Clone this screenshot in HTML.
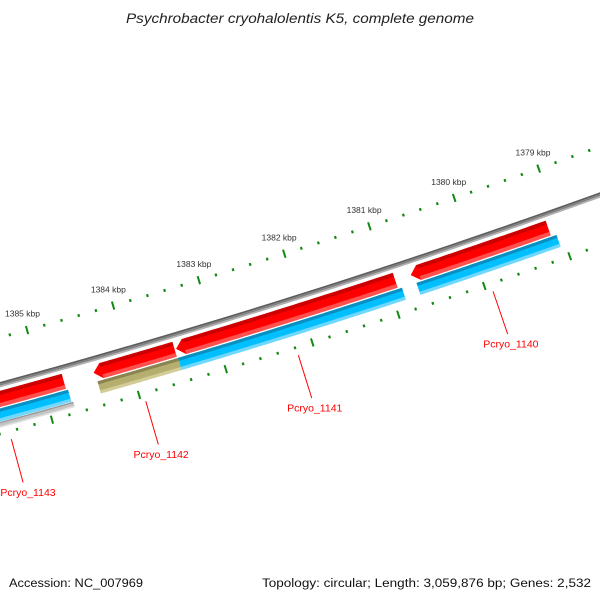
<!DOCTYPE html>
<html><head><meta charset="utf-8"><style>
html,body{margin:0;padding:0;background:#fff;}
svg{display:block;font-family:"Liberation Sans",sans-serif;}
</style></head><body>
<svg id="map" width="600" height="600" viewBox="0 0 600 600" xmlns="http://www.w3.org/2000/svg">
<rect x="0" y="0" width="600" height="600" fill="#fff"/>
<text x="126" y="23" font-size="13.5" font-style="italic" fill="#222" textLength="348" lengthAdjust="spacingAndGlyphs">Psychrobacter cryohalolentis K5, complete genome</text>
<g id="ticksOuter"></g>
<g id="ticksInner"></g>
<g id="backbone"></g>
<g id="genes"></g>
<g id="labels"></g>
<text x="9" y="587" font-size="12.3" fill="#111" textLength="134" lengthAdjust="spacingAndGlyphs">Accession: NC_007969</text>
<text x="262" y="587" font-size="12.3" fill="#111" textLength="329" lengthAdjust="spacingAndGlyphs">Topology: circular; Length: 3,059,876 bp; Genes: 2,532</text>
</svg>
<script>
// data
const geneNames = ["Pcryo_1143","Pcryo_1142","Pcryo_1141","Pcryo_1140"];
const geneStarts = [1384760,1383480,1380915,1379121];
const geneEnds = [1386220,1384416,1383463,1380733];
const cdsStarts = [1384740,1383470,1380870,1379060];
const cdsEnds = [1386220,1384400,1383470,1380700];
const cdsColors = ["blue","olive","blue","blue"];
const extraStarts = [1384720];
const extraEnds = [1386220];
const tickStart = 1377000, tickEnd = 1387000, minorStep = 200, majorStep = 1000;

// geometry
const NS='http://www.w3.org/2000/svg';
const cx=-2048, cy=-7137, a0=1.2882, kRad=0.01154/1000;
function ang(bp){return a0+(bp-1384000)*kRad;}
function pt(bp,r){const a=ang(bp);return [cx+r*Math.cos(a),cy+r*Math.sin(a)];}
const R_BB=7795.5, R_TO=7750, R_LBL=7733, R_RED1=7801.5, R_RED2=7817, R_BL1=7818.5, R_BL2=7831, R_GR1=7831.5, R_GR2=7837, R_TI=7843;
function el(tag,attrs,parent){const e=document.createElementNS(NS,tag);for(const k in attrs)e.setAttribute(k,attrs[k]);parent.appendChild(e);return e;}
function arcPts(s,e,r){const n=40,out=[];for(let i=0;i<=n;i++){out.push(pt(s+(e-s)*i/n,r));}return out;}
function bandPath(s,e,r1,r2,arrow){
  const al=90; const ee=arrow?e-al:e;
  let p=arcPts(s,ee,r1);
  if(arrow){p.push(pt(e,(r1+r2)/2));}
  p=p.concat(arcPts(ee,s,r2));
  return 'M'+p.map(q=>q[0].toFixed(2)+','+q[1].toFixed(2)).join('L')+'Z';
}
const pal={red:['#cc0000','#ff0000','#ff5050'],blue:['#0a8fc0','#00bfff','#70d8ff'],olive:['#8a8450','#b5ae6e','#d2cc96'],gray:['#9a9a9a','#c4c4c4','#e2e2e2']};
function band(g,s,e,r1,r2,col,arrow,name){
  const c=pal[col];const h=r2-r1;
  const p=el('path',{d:bandPath(s,e,r1,r2,arrow),fill:c[1]},g);
  
  
  const top=el('path',{d:bandPath(s,arrow?e-90:e,r1,r1+h*0.25,false),fill:c[0]},g);
  
  
  const bot=el('path',{d:bandPath(s,arrow?e-90:e,r2-h*0.25,r2,false),fill:c[2]},g);
  
  
}
// backbone
const bb=document.getElementById('backbone');
const bbs=[[R_BB-2.6,R_BB-0.8,'#5e5e5e'],[R_BB-0.8,R_BB+1,'#808080'],[R_BB+1,R_BB+2.6,'#b0b0b0']];
bbs.forEach(b=>{const p=el('path',{d:bandPath(1376000,1388000,b[0],b[1],false),fill:b[2]},bb);
  
  });
// ticks
const to=document.getElementById('ticksOuter'), ti=document.getElementById('ticksInner');
for(let bp=tickStart;bp<=tickEnd;bp+=minorStep){
  const major=bp%majorStep===0; const L=major?4.2:1.4;
  [[to,R_TO],[ti,R_TI]].forEach(([g,r])=>{
    const a=pt(bp,r-L),b=pt(bp,r+L);
    const t=el('line',{x1:a[0],y1:a[1],x2:b[0],y2:b[1],stroke:'#138a13','stroke-width':major?2:2.2},g);
    
    
  });
  if(major){const q=pt(bp,R_LBL);
    const tx=el('text',{x:q[0],y:q[1]+3,'text-anchor':'middle','font-size':'8.5',fill:'#333'},to);
    tx.textContent=(bp/1000)+' kbp';
    
    }
}
// genes
const gg=document.getElementById('genes'), lg=document.getElementById('labels');
for(let i=0;i<geneNames.length;i++){
  band(gg,geneStarts[i],geneEnds[i],R_RED1,R_RED2,'red',i>0,'gene-'+geneNames[i]);
  band(gg,cdsStarts[i],cdsEnds[i],R_BL1,R_BL2,cdsColors[i],false,'cds-'+geneNames[i]);
}
for(let i=0;i<extraStarts.length;i++){band(gg,extraStarts[i],extraEnds[i],R_GR1,R_GR2,'gray',false,'extra-feature');}
for(let i=0;i<geneNames.length;i++){
  const mid=(geneStarts[i]+geneEnds[i])/2;
  const a=pt(mid,7851),b=pt(mid,7896),c=pt(mid,7906);
  const ln=el('line',{x1:a[0],y1:a[1],x2:b[0],y2:b[1],stroke:'#ff0000','stroke-width':1},lg);
  
  
  const t=el('text',{x:Math.max(c[0],28),y:c[1]+4,'text-anchor':'middle','font-size':'10.5',fill:'#ff0000'},lg);
  t.textContent=geneNames[i];
  
  
}
</script>
</body></html>
